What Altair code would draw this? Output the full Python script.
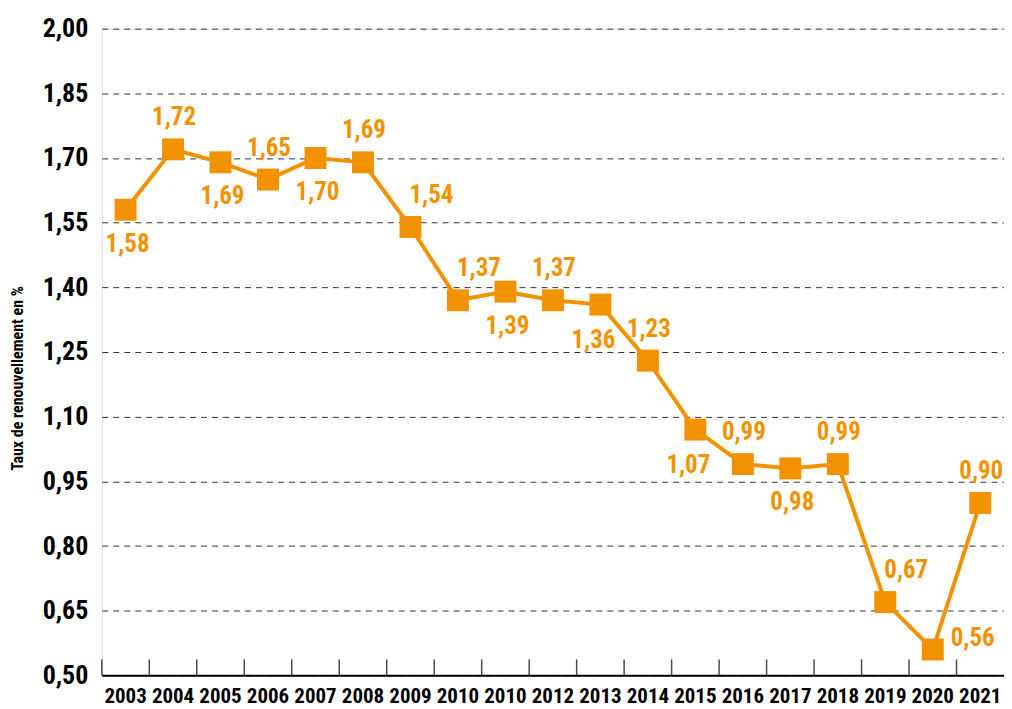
import json
import altair as alt
import pandas as pd

years = ["2003", "2004", "2005", "2006", "2007", "2008", "2009", "2010", "2010",
         "2012", "2013", "2014", "2015", "2016", "2017", "2018", "2019", "2020", "2021"]
rates = [1.58, 1.72, 1.69, 1.65, 1.70, 1.69, 1.54, 1.37, 1.39,
         1.37, 1.36, 1.23, 1.07, 0.99, 0.98, 0.99, 0.67, 0.56, 0.90]
label_pos = ["below", "above", "below", "above", "below", "above", "above-right", "above-right", "below",
             "above", "below-left", "above", "below-left", "above", "below", "above", "above-right", "right", "above"]
y_ticks = [0.50, 0.65, 0.80, 0.95, 1.10, 1.25, 1.40, 1.55, 1.70, 1.85, 2.00]

df = pd.DataFrame({"idx": list(range(len(years))), "year": years, "rate": rates, "pos": label_pos})

ORANGE = "#F39200"
FONT = "Roboto Condensed, Liberation Sans Narrow, Arial Narrow, DejaVu Sans Condensed, Roboto, sans-serif"
label_expr = json.dumps(years) + "[datum.value]"

x_enc = alt.X(
    "idx:O",
    scale=alt.Scale(type="band", paddingInner=0, paddingOuter=0),
    axis=alt.Axis(
        title=None, labelExpr=label_expr, labelAngle=0, ticks=False,
        domainColor="black", domainWidth=2, labelFont=FONT, labelFontSize=21,
        labelFontWeight="bold", labelColor="black", labelPadding=10, grid=False,
        labelOverlap=False,
    ),
)
y_enc = alt.Y(
    "rate:Q",
    scale=alt.Scale(domain=[0.5, 2.0], nice=False, zero=False),
    axis=alt.Axis(
        title="Taux de renouvellement en %", values=y_ticks,
        labelExpr="replace(format(datum.value, '.2f'), '.', ',')",
        labelFont=FONT, labelFontSize=26, labelFontWeight="bold", labelColor="black",
        labelPadding=14, ticks=False, domain=False, grid=True,
        gridDash=[6, 5], gridColor="#333333", gridWidth=1,
        titleFont=FONT, titleFontSize=16, titleFontWeight="bold", titleColor="black",
        titleX=-84, titleY=350, titleAngle=270, titleAlign="center", titleBaseline="middle",
    ),
)

base = alt.Chart(df)

line = base.mark_line(color=ORANGE, strokeWidth=4).encode(x=x_enc, y=y_enc)
points = base.mark_point(shape="square", size=484, filled=True, color=ORANGE, opacity=1).encode(x="idx:O", y="rate:Q")

ticks = base.mark_tick(orient="vertical", size=16, thickness=1.5, color="black", yOffset=-8).encode(
    x=alt.X("idx:O", bandPosition=0), y=alt.datum(0.5)
)

offsets = {
    "above": (1, -32),
    "below": (2, 34),
    "above-right": (21, -32),
    "below-left": (-7, 35),
    "right": (40, -12),
}
texts = []
for p, (dx, dy) in offsets.items():
    texts.append(
        base.transform_filter(alt.datum.pos == p)
        .transform_calculate(lbl="replace(format(datum.rate, '.2f'), '.', ',')")
        .mark_text(font=FONT, fontSize=25, fontWeight="bold", color=ORANGE, dx=dx, dy=dy, baseline="middle")
        .encode(x="idx:O", y="rate:Q", text="lbl:N")
    )

chart = alt.layer(line, ticks, points, *texts).properties(
    width=904, height=648,
    autosize=alt.AutoSizeParams(type="none"),
    padding={"left": 94, "top": 20, "right": 0, "bottom": 31},
).configure_view(stroke=None).configure(background="white")

chart.save("out.html", embed_options={"renderer": "svg", "actions": False})
